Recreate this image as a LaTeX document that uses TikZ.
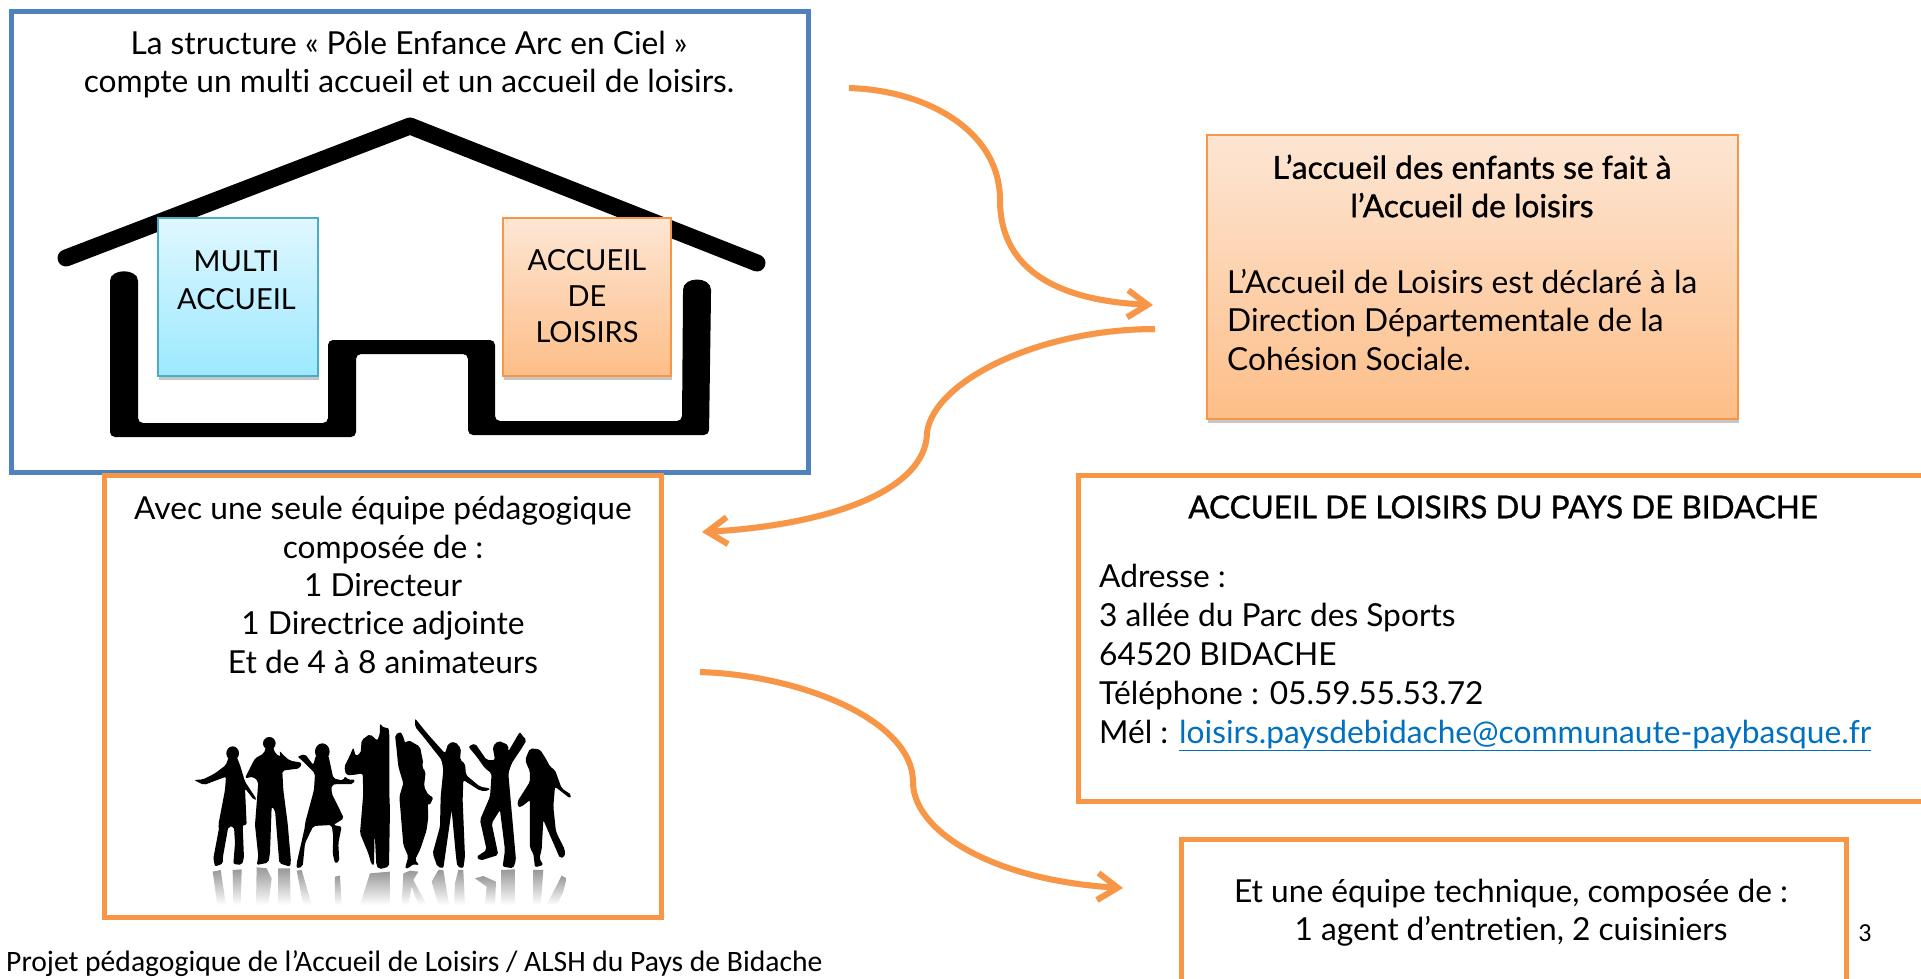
\documentclass[tikz,border=0pt]{standalone}
\usepackage{fontspec}
\usepackage{xcolor}
\setmainfont[Ligatures=NoCommon]{Lato}
\newfontfamily\footfont[Ligatures=NoCommon]{Carlito}
\newfontfamily\headfont[FakeBold=1,Ligatures=NoCommon]{Lato}
\usetikzlibrary{arrows.meta,shadows}

\definecolor{boxblue}{HTML}{4F81BD}
\definecolor{boxorange}{HTML}{F79646}
\definecolor{boxcyan}{HTML}{4BACC6}
\definecolor{maillink}{HTML}{0070C0}
\definecolor{peachtop}{HTML}{FDE6D4}
\definecolor{peachlow}{HTML}{FDBE88}
\definecolor{cyantop}{HTML}{E0F7FF}
\definecolor{cyanlow}{HTML}{9CE9FF}

\tikzset{
  label30/.style={inner sep=0pt,font=\fontsize{31.7}{38.4}\selectfont},
  label29/.style={inner sep=0pt,font=\fontsize{29}{38}\selectfont},
  framebox/.style={draw=#1,line width=5pt,fill=white,inner sep=0pt},
  softshadow/.style={drop shadow={shadow xshift=1pt,shadow yshift=-4pt,opacity=.45}},
  orangegrad/.style={draw=boxorange,line width=2pt,top color=peachtop,bottom color=peachlow,inner sep=0pt,softshadow},
  cyangrad/.style={draw=boxcyan,line width=2pt,top color=cyantop,bottom color=cyanlow,inner sep=0pt,softshadow},
  softarrow/.style={draw=boxorange,line width=6pt,-{Straight Barb[length=20pt,width=27pt]},
    preaction={draw=black,opacity=.12,transform canvas={xshift=1pt,yshift=-3pt}}},
  mirror/.style={top color=black!40,bottom color=white,draw=none}
}

\begin{document}
\begin{tikzpicture}[x=1pt,y=-1pt]
  \useasboundingbox (0,0) rectangle (1921,979);
  \clip (0,0) rectangle (1921,979);

  % Frames
  \node[framebox=boxblue,minimum width=797pt,minimum height=461pt] (structframe) at (410,242) {};
  \node[framebox=boxorange,minimum width=557pt,minimum height=442pt] (teamframe) at (383,696.5) {};
  \node[framebox=boxorange,minimum width=849pt,minimum height=326pt] (addrframe) at (1503,638.5) {};
  \node[framebox=boxorange,minimum width=665pt,minimum height=148pt] (techframe) at (1514,913.5) {};
  \node[orangegrad,minimum width=531pt,minimum height=284pt] (declbox) at (1472.5,277) {};

  % House
  \draw[line width=17pt,line cap=round,line join=round] (66,258) -- (410,126) -- (757,263);
  \fill[rounded corners=5pt] (110,286) .. controls (110,268) and (138,268) .. (138,286)
    -- (138,423) -- (328,423) -- (328,340) -- (495,340) -- (495,421) -- (682,421)
    -- (683,295) .. controls (683,276) and (711,276) .. (711,295)
    -- (709,435) -- (468,435) -- (468,354) -- (356,354) -- (356,437) -- (110,437) -- cycle;
  \node[cyangrad,minimum width=160pt,minimum height=158pt] (multibox) at (237.5,296.5) {};
  \node[orangegrad,minimum width=168pt,minimum height=158pt] (loisirsbox) at (586.5,296.5) {};

  % Texts of the house frame
  \node[label30,align=center] (structtext) at (409,64.5) {La structure « Pôle Enfance Arc en Ciel »\\compte un multi accueil et un accueil de loisirs.};
  \node[label29,align=center] (multitext) at (236.5,280) {MULTI\\ACCUEIL};
  \node[label29,align=center,font=\fontsize{29}{36}\selectfont] (loisirstext) at (587,296) {ACCUEIL\\DE\\LOISIRS};

  % Texts of the team frame
  \node[label30,align=center] (teamtext) at (383,585) {Avec une seule équipe pédagogique\\composée de :\\1 Directeur\\1 Directrice adjointe\\Et de 4 à 8 animateurs};

  % Dancers, left part
  \begin{scope}[shift={(190,710)},x=.3333pt,y=-.3333pt]
    \fill (128,130) ellipse (19 and 21);
    \fill[rounded corners=2pt] (12,210) -- (40,208) -- (75,190) -- (108,165) -- (116,140) -- (140,140) -- (150,165) -- (165,215) -- (200,268) -- (192,270) -- (165,235) -- (170,345) -- (158,345) -- (162,445) -- (155,465) -- (130,462) -- (135,400) -- (132,350) -- (115,350) -- (98,445) -- (100,460) -- (75,470) -- (70,445) -- (88,350) -- (85,345) -- (105,240) -- (108,200) -- (42,225) -- cycle;
    \fill (238,100) circle (19);
    \fill[rounded corners=2pt] (222,130) -- (228,110) -- (250,110) -- (255,130) -- (272,140) -- (268,122) -- (285,140) -- (300,152) -- (335,158) -- (330,175) -- (277,182) -- (280,240) -- (293,340) -- (303,455) -- (300,470) -- (268,460) -- (255,300) -- (245,290) -- (240,430) -- (235,458) -- (200,465) -- (205,440) -- (195,345) -- (205,215) -- (190,200) -- (165,205) -- (172,190) -- (195,145) -- cycle;
    \fill (397,125) ellipse (22 and 25);
    \fill[rounded corners=2pt] (322,140) -- (345,132) -- (370,165) -- (378,135) -- (415,135) -- (430,205) -- (460,212) -- (465,198) -- (475,210) -- (495,208) -- (490,222) -- (440,222) -- (425,225) -- (425,250) -- (462,325) -- (430,345) -- (455,350) -- (445,400) -- (448,455) -- (435,460) -- (428,430) -- (430,380) -- (425,345) -- (370,348) -- (345,400) -- (338,470) -- (320,475) -- (320,460) -- (345,350) -- (345,340) -- (372,240) -- (375,190) -- (355,170) -- (335,150) -- cycle;
    \fill[rounded corners=2pt] (570,40) -- (582,55) -- (595,52) -- (598,70) -- (598,250) -- (600,300) -- (597,470) -- (567,478) -- (559,465) -- (554,365) -- (552,465) -- (545,465) -- (535,430) -- (510,370) -- (520,250) -- (518,190) -- (490,195) -- (468,195) -- (463,170) -- (478,140) -- (490,112) -- (497,138) -- (512,130) -- (515,90) -- (540,72) -- (562,92) -- (570,70) -- cycle;
    % Reflections
    \path[mirror] (68,485) -- (92,480) -- (108,585) -- (82,585) -- cycle;
    \path[mirror] (128,480) -- (155,478) -- (152,585) -- (130,585) -- cycle;
    \path[mirror] (200,472) -- (230,475) -- (245,505) -- (235,585) -- (198,585) -- cycle;
    \path[mirror] (265,475) -- (300,475) -- (302,585) -- (265,585) -- cycle;
    \path[mirror] (320,482) -- (335,480) -- (365,585) -- (340,585) -- cycle;
    \path[mirror] (435,500) -- (450,497) -- (455,585) -- (435,585) -- cycle;
    \path[mirror] (540,490) -- (600,485) -- (600,585) -- (510,585) -- cycle;
  \end{scope}

  % Dancers, right part
  \begin{scope}[shift={(380,710)},x=.3333pt,y=-.3333pt]
    \fill[rounded corners=2pt] (45,75) -- (62,65) -- (72,85) -- (75,100) -- (85,90) -- (120,110) -- (130,160) -- (125,170) -- (137,185) -- (132,230) -- (145,255) -- (160,262) -- (150,285) -- (143,280) -- (145,320) -- (140,360) -- (120,420) -- (105,450) -- (118,465) -- (95,463) -- (88,475) -- (75,475) -- (85,440) -- (70,405) -- (58,260) -- (70,220) -- (55,170) -- (50,120) -- cycle;
    \fill[rounded corners=2pt] (105,25) -- (125,50) -- (150,80) -- (195,130) -- (205,100) -- (225,95) -- (243,115) -- (240,150) -- (255,160) -- (258,195) -- (300,230) -- (330,235) -- (325,243) -- (300,242) -- (250,210) -- (248,270) -- (255,440) -- (250,475) -- (232,470) -- (228,440) -- (215,300) -- (195,440) -- (190,475) -- (172,470) -- (158,430) -- (180,350) -- (182,260) -- (190,180) -- (185,150) -- (130,80) -- (105,50) -- cycle;
    \fill[rounded corners=2pt] (420,65) -- (425,75) -- (440,90) -- (425,115) -- (395,160) -- (385,190) -- (392,270) -- (408,450) -- (400,475) -- (368,470) -- (375,420) -- (360,300) -- (335,340) -- (355,435) -- (300,452) -- (290,440) -- (320,420) -- (300,330) -- (330,260) -- (335,190) -- (315,175) -- (290,140) -- (265,110) -- (285,100) -- (320,150) -- (345,150) -- (338,110) -- (355,92) -- (385,105) -- (385,125) -- (405,90) -- cycle;
    \fill[rounded corners=2pt] (435,150) -- (450,115) -- (480,118) -- (500,150) -- (510,170) -- (525,180) -- (545,235) -- (575,255) -- (570,265) -- (525,230) -- (520,290) -- (528,365) -- (555,420) -- (555,440) -- (540,445) -- (490,330) -- (485,420) -- (478,445) -- (490,465) -- (465,472) -- (460,430) -- (450,415) -- (450,270) -- (425,290) -- (415,292) -- (412,275) -- (450,215) -- (450,185) -- cycle;
    % Reflections
    \path[mirror] (70,490) -- (90,482) -- (115,485) -- (100,510) -- (140,585) -- (115,585) -- (95,530) -- (85,585) -- (65,585) -- cycle;
    \path[mirror] (175,480) -- (190,480) -- (207,585) -- (175,585) -- (155,515) -- cycle;
    \path[mirror] (235,480) -- (250,480) -- (255,585) -- (222,585) -- (225,520) -- cycle;
    \path[mirror] (285,505) -- (310,498) -- (348,515) -- (345,585) -- (315,585) -- (320,530) -- cycle;
    \path[mirror] (365,480) -- (405,478) -- (405,585) -- (365,585) -- cycle;
    \path[mirror] (460,480) -- (490,480) -- (482,585) -- (460,585) -- cycle;
    \path[mirror] (545,497) -- (560,505) -- (550,545) -- (530,585) -- (500,585) -- cycle;
  \end{scope}

  % Right hand texts
  \node[label30,align=center,font=\fontsize{31.7}{38.4}\headfont] (declhead) at (1472,186) {L’accueil des enfants se fait à\\l’Accueil de loisirs};
  \node[label30,align=left,anchor=west] (decltext) at (1227,320) {L’Accueil de Loisirs est déclaré à la\\Direction Départementale de la\\Cohésion Sociale.};
  \node[label30,font=\fontsize{31.5}{38.4}\headfont] (addrhead) at (1503,507) {ACCUEIL DE LOISIRS DU PAYS DE BIDACHE};
  \node[label30,align=left,anchor=west,font=\fontsize{31.7}{38.8}\selectfont] (addrtext) at (1099,657.5) {Adresse :\\3 allée du Parc des Sports\\64520 BIDACHE\\Téléphone : 05.59.55.53.72\\Mél : \textcolor{maillink}{\underline{loisirs.paysdebidache@communaute-paybasque.fr}}};
  \node[label30,align=center] (techtext) at (1511,913) {Et une équipe technique, composée de :\\1 agent d’entretien, 2 cuisiniers};

  % Page furniture
  \node[inner sep=0pt,font=\fontsize{26}{30}\footfont] (pagenum) at (1865,933) {3};
  \node[inner sep=0pt,anchor=base west,font=\fontsize{29.6}{34}\footfont] (footer) at (6,971) {Projet pédagogique de l’Accueil de Loisirs / ALSH du Pays de Bidache};

  % Arrows
  \coordinate (arrowa) at (849,88);
  \coordinate (arrowb) at (1000,200);
  \coordinate (arrowc) at (1153,305);
  \coordinate (arrowd) at (1155,329);
  \coordinate (arrowe) at (927,432);
  \coordinate (arrowf) at (702,532);
  \coordinate (arrowg) at (700,672);
  \coordinate (arrowh) at (913,782);
  \coordinate (arrowi) at (1123,888);
  \draw[softarrow] (arrowa) .. controls (925,90) and (1000,130) .. (arrowb) .. controls (1000,265) and (1050,300) .. (arrowc);
  \draw[softarrow] (arrowd) .. controls (1040,329) and (935,380) .. (arrowe) .. controls (927,490) and (830,525) .. (arrowf);
  \draw[softarrow] (arrowg) .. controls (800,675) and (913,720) .. (arrowh) .. controls (913,830) and (990,880) .. (arrowi);
\end{tikzpicture}
\end{document}
